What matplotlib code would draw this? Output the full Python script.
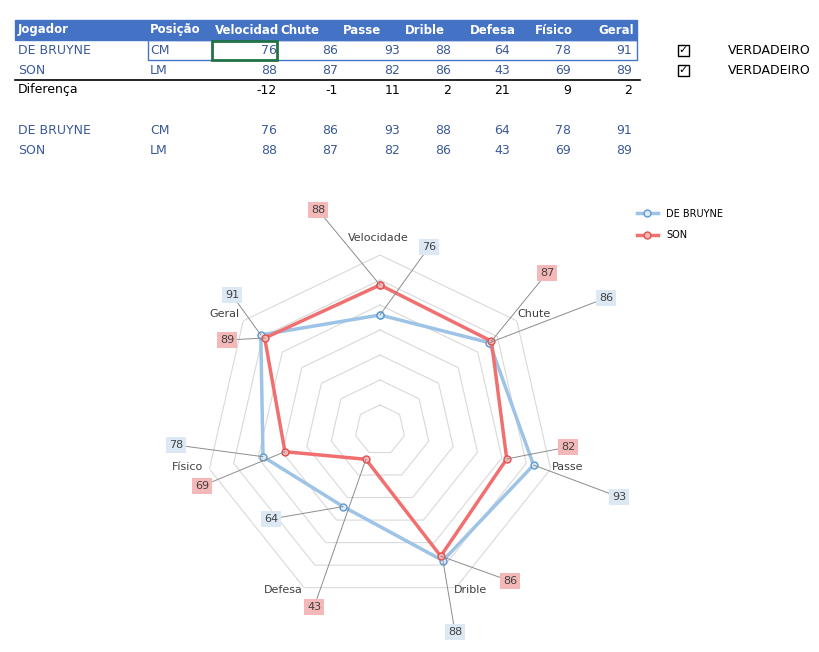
import numpy as np
import matplotlib
matplotlib.use("Agg")
import matplotlib.pyplot as plt
from matplotlib.patches import Rectangle
from matplotlib.lines import Line2D

plt.rcParams['font.family'] = ['Liberation Sans Narrow', 'DejaVu Sans']

categories = ['Velocidade', 'Chute', 'Passe', 'Drible', 'Defesa', 'Físico', 'Geral']
header = ['Jogador', 'Posição', 'Velocidad', 'Chute', 'Passe', 'Drible', 'Defesa', 'Físico', 'Geral']
players = ['DE BRUYNE', 'SON']
positions = ['CM', 'LM']
debruyne = [76, 86, 93, 88, 64, 78, 91]
son = [88, 87, 82, 86, 43, 69, 89]
diff = [a - b for a, b in zip(debruyne, son)]

W, H = 820, 652
fig = plt.figure(figsize=(W / 100, H / 100), dpi=100)

def px(x, y):
    return x / W, 1 - y / H

# ---- table ----
tc = '#3b5998'
fs = 9
fig.patches.append(Rectangle(px(15, 40), 622 / W, 20 / H, transform=fig.transFigure, color='#4472C4'))
hx = [18, 150, 215, 280, 343, 405, 470, 535, 598]
for x, t in zip(hx, header):
    fig.text(*px(x, 30), t, color='white', weight='bold', fontsize=fs - 0.5, va='center')
nx = [277, 338, 400, 451, 510, 571, 632]
rows = [(50, players[0], positions[0], debruyne), (70, players[1], positions[1], son),
        (130, players[0], positions[0], debruyne), (150, players[1], positions[1], son)]
for y, name, pos, vals in rows:
    fig.text(*px(18, y), name, color=tc, fontsize=fs, va='center')
    fig.text(*px(150, y), pos, color=tc, fontsize=fs, va='center')
    for x, v in zip(nx, vals):
        fig.text(*px(x, y), str(v), color=tc, fontsize=fs, va='center', ha='right')
fig.text(*px(18, 90), 'Diferença', color='black', fontsize=fs, va='center')
for x, v in zip(nx, diff):
    fig.text(*px(x, 90), str(v), color='black', fontsize=fs, va='center', ha='right')
fig.add_artist(Line2D([15 / W, 640 / W], [1 - 80 / H] * 2, color='black', lw=1.2))
fig.patches.append(Rectangle(px(148, 60), 489 / W, 20 / H, transform=fig.transFigure,
                             fill=False, ec='#4472C4', lw=1))
fig.patches.append(Rectangle(px(212, 60), 65 / W, 19 / H, transform=fig.transFigure,
                             fill=False, ec='#217346', lw=2))
for y in (50, 70):
    fig.patches.append(Rectangle(px(678, y + 6), 11 / W, 11 / H, transform=fig.transFigure,
                                 fill=False, ec='black', lw=1))
    fig.text(*px(683, y), '✓', fontsize=8, ha='center', va='center', family='DejaVu Sans')
    fig.text(*px(728, y), 'VERDADEIRO', fontsize=fs, va='center')

# ---- radar ----
cx, cy, R = 380, 430, 175
ax = fig.add_axes([(cx - R) / W, (H - cy - R) / H, 2 * R / W, 2 * R / H], projection='polar')
ax.set_theta_zero_location('N')
ax.set_theta_direction(-1)
rmin, rmax = 30, 100
ax.set_ylim(rmin, rmax)
ax.axis('off')
theta = np.linspace(0, 2 * np.pi, len(categories), endpoint=False)
tc_closed = np.append(theta, theta[0])
for r in range(40, 101, 10):
    ax.plot(tc_closed, [r] * len(tc_closed), color='#d9d9d9', lw=0.8)

blue, red = '#9dc3e6', '#f07070'
ax.plot(tc_closed, debruyne + debruyne[:1], color=blue, lw=2.5, marker='o', ms=5,
        mfc='#dde8f5', mec='#5b9bd5', label='DE BRUYNE')
ax.plot(tc_closed, son + son[:1], color=red, lw=2.5, marker='o', ms=5,
        mfc='#f7b5b5', mec='#e05050', label='SON')

cat_pos = [(378, 238), (534, 314), (568, 467), (471, 590), (283, 590), (188, 467), (224, 314)]
for (x, y), t in zip(cat_pos, categories):
    fig.text(*px(x, y), t, fontsize=8, color='#404040', ha='center', va='center', family='DejaVu Sans')

db_lbl = [(429, 247), (606, 298), (619, 497), (455, 632), (271, 519), (176, 445), (232, 295)]
son_lbl = [(318, 210), (547, 273), (568, 447), (510, 581), (314, 607), (202, 486), (227, 340)]
for vals, lbls, fc in ((debruyne, db_lbl, '#dde8f5'), (son, son_lbl, '#f4b8b8')):
    for th, v, (x, y) in zip(theta, vals, lbls):
        ax.annotate(str(v), xy=(th, v), xytext=(x, H - y), textcoords='figure pixels',
                    fontsize=8, ha='center', va='center', color='#404040', family='DejaVu Sans',
                    bbox=dict(boxstyle='square,pad=0.25', fc=fc, ec='none'),
                    arrowprops=dict(arrowstyle='-', color='#8c8c8c', lw=0.7, shrinkA=0, shrinkB=0))

fig.legend(loc='upper left', bbox_to_anchor=px(628, 200), frameon=False,
           prop={'family': 'DejaVu Sans', 'size': 7}, handlelength=2.2, labelspacing=1.2)

fig.savefig('out.png', dpi=100)
